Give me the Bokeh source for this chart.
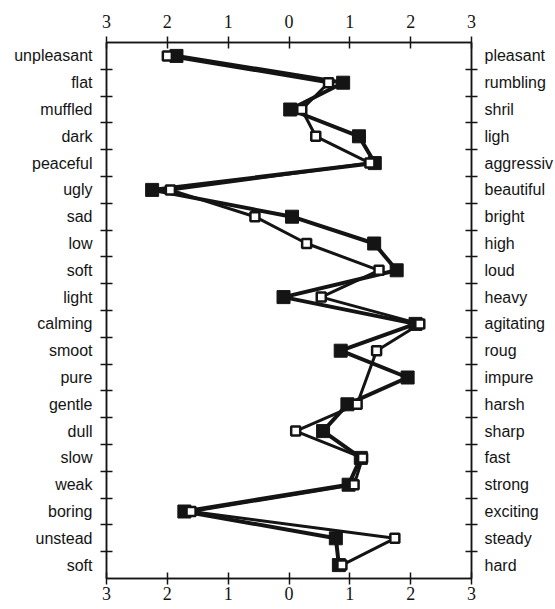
from bokeh.plotting import figure
from bokeh.models import LinearAxis, FixedTicker, Range1d, ColumnDataSource
from bokeh.embed import file_html
from bokeh.resources import INLINE

left_labels = ["unpleasant", "flat", "muffled", "dark", "peaceful", "ugly", "sad", "low",
               "soft", "light", "calming", "smoot", "pure", "gentle", "dull", "slow",
               "weak", "boring", "unstead", "soft"]
right_labels = ["pleasant", "rumbling", "shril", "ligh", "aggressiv", "beautiful", "bright",
                "high", "loud", "heavy", "agitating", "roug", "impure", "harsh", "sharp",
                "fast", "strong", "exciting", "steady", "hard"]
rows = list(range(1, 21))
filled_vals = [-1.85, 0.89, 0.02, 1.15, 1.41, -2.25, 0.05, 1.40, 1.77, -0.09,
               2.08, 0.85, 1.95, 0.96, 0.56, 1.18, 0.98, -1.72, 0.77, 0.82]
open_vals = [-2.0, 0.65, 0.21, 0.44, 1.33, -1.95, -0.56, 0.29, 1.48, 0.53,
             2.15, 1.44, None, 1.12, 0.11, 1.21, 1.07, -1.61, 1.74, 0.87]
x_ticks = [-3, -2, -1, 0, 1, 2, 3]
x_tick_labels = ["3", "2", "1", "0", "1", "2", "3"]

INK = "#141414"

p = figure(frame_width=365, frame_height=536, output_backend="svg", toolbar_location=None,
           x_range=Range1d(-3, 3), y_range=Range1d(20.5, 0.5),
           x_axis_location="below", y_axis_location="left",
           min_border_left=106, min_border_right=84, min_border_top=42, min_border_bottom=0)
p.grid.visible = False
p.outline_line_color = INK
p.outline_line_width = 1.5
p.background_fill_color = "white"
p.border_fill_color = "white"

xover = {t: l for t, l in zip(x_ticks, x_tick_labels)}


def style_x(ax, standoff):
    ax.ticker = FixedTicker(ticks=x_ticks)
    ax.major_label_overrides = xover
    ax.major_tick_in = 6
    ax.major_tick_out = 6
    ax.minor_tick_in = 0
    ax.minor_tick_out = 0
    ax.axis_line_color = INK
    ax.axis_line_width = 1.5
    ax.major_tick_line_color = INK
    ax.major_tick_line_width = 1.5
    ax.major_label_text_font = "Liberation Serif"
    ax.major_label_text_font_size = "18px"
    ax.major_label_text_color = INK
    ax.major_label_standoff = standoff


def style_y(ax, labels, standoff):
    ax.ticker = FixedTicker(ticks=rows, minor_ticks=[r + 0.5 for r in rows[:-1]])
    ax.major_label_overrides = {r: l for r, l in zip(rows, labels)}
    ax.major_tick_in = 0
    ax.major_tick_out = 0
    ax.minor_tick_in = 6
    ax.minor_tick_out = 6
    ax.minor_tick_line_color = INK
    ax.minor_tick_line_width = 1.5
    ax.axis_line_color = INK
    ax.axis_line_width = 1.5
    ax.major_label_text_font = "Liberation Sans"
    ax.major_label_text_font_size = "16px"
    ax.major_label_text_color = INK
    ax.major_label_standoff = standoff


style_x(p.xaxis[0], 2)
style_y(p.yaxis[0], left_labels, 8)

top = LinearAxis()
style_x(top, 9)
p.add_layout(top, "above")

right = LinearAxis()
style_y(right, right_labels, 7)
p.add_layout(right, "right")

src_f = ColumnDataSource(dict(x=filled_vals, y=rows))
ox = [v for v in open_vals if v is not None]
oy = [r for r, v in zip(rows, open_vals) if v is not None]
src_o = ColumnDataSource(dict(x=ox, y=oy))

p.line("x", "y", source=src_f, line_color=INK, line_width=4)
p.scatter("x", "y", source=src_f, marker="square", size=13, fill_color=INK, line_color=INK)
p.line("x", "y", source=src_o, line_color=INK, line_width=3)
p.scatter("x", "y", source=src_o, marker="square", size=9, fill_color="white",
          line_color=INK, line_width=2.5)

open("out.html", "w").write(file_html(p, INLINE))
